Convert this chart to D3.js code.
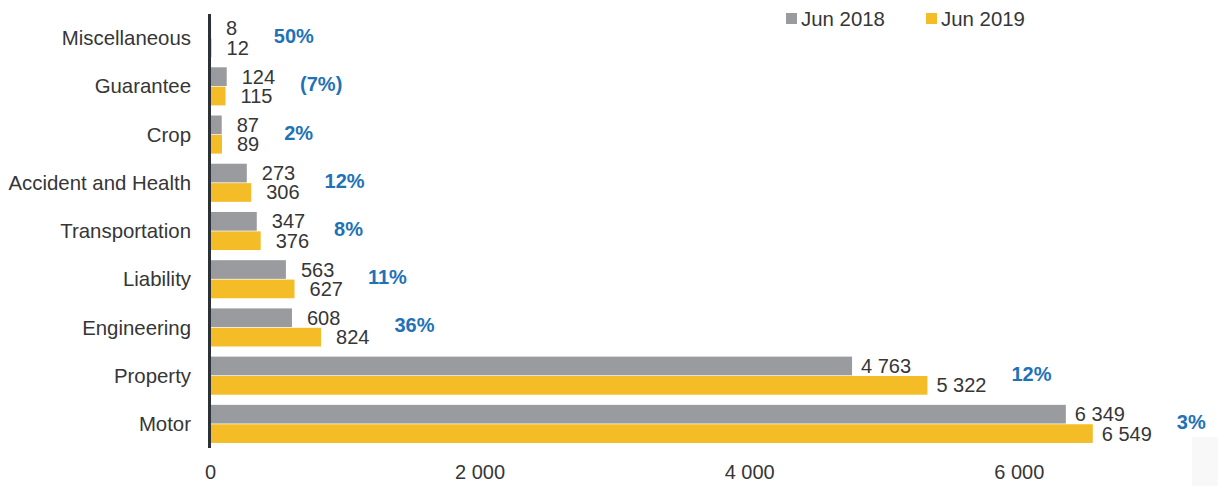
<!DOCTYPE html>
<html>
<head>
<meta charset="utf-8">
<script src="https://cdn.jsdelivr.net/npm/d3@7"></script>
<style>
  html, body { margin: 0; padding: 0; background: #fff; }
  svg { display: block; font-family: "Liberation Sans", Arial, sans-serif; }
</style>
</head>
<body>
<svg id="chart" width="1218" height="486"></svg>
<script>
const categories = ["Miscellaneous", "Guarantee", "Crop", "Accident and Health", "Transportation", "Liability", "Engineering", "Property", "Motor"];
const seriesNames = ["Jun 2018", "Jun 2019"];
const values2018 = [8, 124, 87, 273, 347, 563, 608, 4763, 6349];
const values2019 = [12, 115, 89, 306, 376, 627, 824, 5322, 6549];
const changeLabels = ["50%", "(7%)", "2%", "12%", "8%", "11%", "36%", "12%", "3%"];
const tickValues = [0, 2000, 4000, 6000];

const colors = ["#999b9e", "#f4bc27"];
const textColor = "#363636";
const blue = "#1f72b8";

const svg = d3.select("#chart");

// faint panel at bottom-right
svg.append("rect").attr("x", 1192).attr("y", 437).attr("width", 26).attr("height", 49).attr("fill", "#f8f8f8");

const x = d3.scaleLinear().domain([0, 7000]).range([210, 210 + 7000 * 0.1348]);
const y0 = d3.scaleBand().domain(categories).range([14, 448]).paddingInner(0.21).paddingOuter(0.105);
const y1 = d3.scaleBand().domain(seriesNames).range([0, y0.bandwidth()]).paddingInner(0.037);

const fmt = d3.formatLocale({ decimal: ".", thousands: " ", grouping: [3], currency: ["", ""] }).format(",d");

const data = categories.map((c, i) => ({ cat: c, vals: [values2018[i], values2019[i]], change: changeLabels[i] }));

// bars
const groups = svg.append("g").selectAll("g").data(data).join("g")
  .attr("transform", d => `translate(0,${y0(d.cat)})`);

groups.selectAll("rect").data(d => d.vals.map((v, k) => ({ v, k }))).join("rect")
  .attr("x", x(0))
  .attr("y", d => y1(seriesNames[d.k]))
  .attr("width", d => Math.max(0, x(d.v) - x(0)))
  .attr("height", y1.bandwidth())
  .attr("fill", d => colors[d.k]);

// value labels and change labels
groups.each(function(d) {
  const g = d3.select(this);
  let maxEnd = 0;
  d.vals.forEach((v, k) => {
    const off = v < 1000 ? 15 : 9;
    const t = g.append("text")
      .attr("x", x(v) + off)
      .attr("y", y1(seriesNames[k]) + y1.bandwidth() / 2)
      .attr("dy", "0.35em")
      .attr("font-size", 20)
      .attr("fill", textColor)
      .text(fmt(v));
    const end = x(v) + off + t.node().getComputedTextLength();
    if (end > maxEnd) maxEnd = end;
  });
  g.append("text")
    .attr("x", maxEnd + 25)
    .attr("y", y0.bandwidth() / 2 - 2)
    .attr("dy", "0.35em")
    .attr("font-size", 20)
    .attr("font-weight", "bold")
    .attr("fill", blue)
    .text(d.change);
});

// category labels
svg.append("g").selectAll("text").data(categories).join("text")
  .attr("x", 191)
  .attr("y", d => y0(d) + y0.bandwidth() / 2)
  .attr("dy", "0.35em")
  .attr("text-anchor", "end")
  .attr("font-size", 20.4)
  .attr("fill", textColor)
  .text(d => d);

// vertical axis line
svg.append("line")
  .attr("x1", 209.5).attr("x2", 209.5)
  .attr("y1", 14).attr("y2", 448)
  .attr("stroke", "#2b3136").attr("stroke-width", 3);

// x axis tick labels
const xAxis = d3.axisBottom(x).tickValues(tickValues).tickFormat(fmt).tickSize(0).tickPadding(0);
const ax = svg.append("g").attr("transform", "translate(0,458)").call(xAxis);
ax.select(".domain").remove();
ax.selectAll("text")
  .attr("font-size", 20)
  .attr("font-family", "Liberation Sans, Arial, sans-serif")
  .attr("fill", textColor)
  .attr("y", 14)
  .attr("dy", "0.35em");

// legend
const legend = svg.append("g");
const legendX = [786, 926];
seriesNames.forEach((s, k) => {
  legend.append("rect").attr("x", legendX[k]).attr("y", 13).attr("width", 11).attr("height", 11).attr("fill", colors[k]);
  legend.append("text").attr("x", legendX[k] + 15).attr("y", 18.5).attr("dy", "0.35em")
    .attr("font-size", 20.4).attr("fill", textColor).text(s);
});
</script>
</body>
</html>
